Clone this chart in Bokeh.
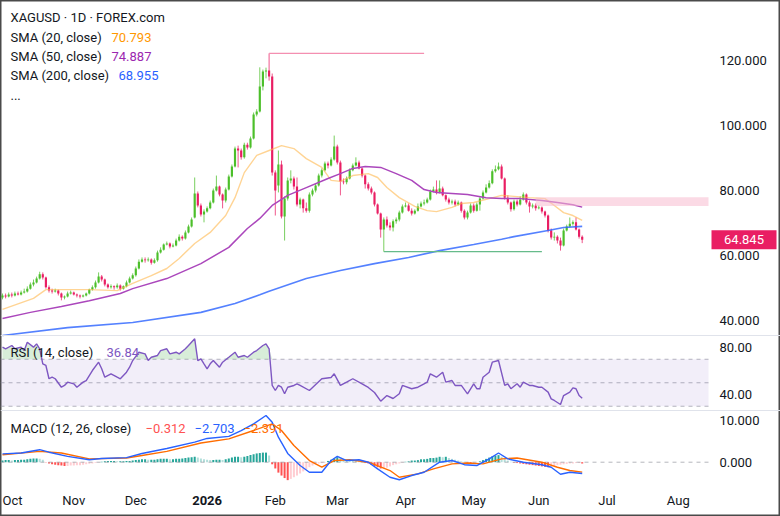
import numpy as np
from bokeh.plotting import figure
from bokeh.models import (Range1d, ColumnDataSource, Span,
                          BoxAnnotation, Label, LabelSet)
from bokeh.embed import file_html
from bokeh.resources import INLINE
from bokeh.core.properties import value

# ---------------- data ----------------
opens = [47.1, 47.7, 47.4, 48.0, 47.7, 48.3, 48.0, 48.6, 48.9, 49.8,
         51.1, 51.7, 52.9, 54.2, 53.2, 50.2, 49.2, 48.9, 49.2, 48.3,
         47.1, 47.4, 48.3, 48.6, 48.0, 47.7, 47.4, 47.7, 48.3, 49.5,
         50.2, 51.7, 53.5, 52.6, 51.1, 50.2, 50.5, 50.2, 50.8, 49.8,
         50.5, 51.7, 52.9, 53.9, 56.0, 58.1, 58.8, 58.5, 58.8, 57.8,
         58.5, 60.9, 61.8, 63.4, 63.7, 62.8, 63.1, 64.6, 65.8, 65.2,
         67.1, 68.9, 71.7, 79.1, 75.4, 72.6, 73.5, 74.5, 76.3, 80.0,
         81.2, 78.8, 76.9, 80.3, 84.3, 87.4, 92.9, 92.3, 90.2, 94.1,
         93.2, 96.0, 103.4, 104.3, 112.0, 116.6, 116.9, 115.1, 85.5, 81.5,
         88.0, 72.0, 77.5, 83.1, 83.7, 81.2, 75.7, 77.2, 74.5, 73.8,
         78.8, 80.0, 81.5, 84.6, 86.2, 88.3, 87.7, 89.5, 93.5, 88.6,
         82.8, 82.5, 83.7, 86.2, 87.7, 88.6, 86.8, 84.6, 81.9, 80.6,
         79.4, 75.7, 72.9, 68.0, 71.1, 69.2, 68.6, 70.5, 71.1, 73.2,
         75.1, 75.4, 73.8, 72.9, 73.8, 75.1, 76.0, 76.3, 77.2, 79.7,
         80.3, 79.4, 80.6, 78.5, 77.2, 76.3, 76.6, 75.7, 76.3, 73.8,
         71.7, 73.2, 75.4, 73.8, 75.7, 77.5, 79.4, 80.9, 82.2, 85.9,
         86.5, 87.4, 83.7, 77.8, 76.3, 74.2, 76.6, 75.7, 77.2, 78.8,
         76.3, 75.1, 75.4, 74.5, 74.8, 73.5, 72.3, 67.7, 65.5, 65.8,
         64.6, 63.1, 67.7, 68.9, 69.8, 70.2, 68.0, 65.8]
highs = [48.3, 48.3, 48.6, 48.6, 48.9, 48.9, 49.2, 49.8, 50.5, 51.7,
         52.6, 53.5, 55.0, 54.8, 53.5, 50.8, 49.8, 49.8, 49.5, 48.6,
         47.7, 48.9, 49.2, 48.9, 48.3, 48.0, 48.0, 48.6, 49.8, 50.8,
         52.3, 54.8, 54.0, 52.9, 51.4, 51.1, 50.8, 51.4, 51.1, 50.8,
         52.3, 53.5, 54.5, 56.6, 58.8, 59.4, 59.4, 59.4, 59.1, 59.1,
         61.5, 62.5, 63.7, 64.3, 64.0, 63.7, 65.2, 66.5, 66.2, 67.7,
         69.5, 71.7, 84.0, 79.7, 76.0, 74.2, 75.1, 76.9, 80.6, 84.6,
         81.5, 79.1, 80.9, 84.9, 88.0, 93.5, 93.8, 92.9, 94.7, 94.7,
         96.6, 104.0, 105.0, 117.9, 117.2, 117.8, 122.2, 116.0, 86.2, 92.3,
         89.2, 78.2, 84.0, 86.2, 84.3, 84.0, 77.8, 77.5, 76.3, 79.4,
         80.6, 82.2, 85.2, 86.8, 88.9, 88.9, 90.2, 96.9, 94.1, 89.2,
         83.7, 84.3, 86.8, 88.3, 90.2, 89.2, 87.1, 84.9, 82.5, 81.2,
         79.7, 76.0, 73.2, 71.7, 72.0, 70.2, 71.1, 71.7, 73.8, 75.7,
         76.3, 76.0, 74.5, 74.2, 76.0, 76.6, 77.2, 77.8, 80.3, 81.2,
         83.1, 83.1, 81.2, 78.8, 77.8, 77.2, 77.2, 76.9, 76.6, 74.2,
         73.8, 76.0, 76.0, 76.3, 78.2, 80.0, 81.9, 83.1, 86.5, 87.7,
         88.6, 88.0, 84.0, 78.5, 76.6, 77.2, 77.2, 78.2, 79.4, 79.1,
         76.9, 76.0, 76.0, 75.4, 75.1, 73.8, 72.6, 68.3, 67.1, 66.2,
         65.5, 68.3, 69.5, 71.7, 70.8, 71.7, 68.3, 66.2]
lows = [46.5, 46.8, 47.1, 47.1, 47.4, 47.7, 47.7, 48.3, 48.6, 49.5,
        50.5, 51.4, 52.6, 52.6, 49.8, 48.6, 48.3, 48.6, 47.7, 46.2,
        46.5, 47.1, 48.0, 47.7, 47.1, 46.8, 47.1, 47.4, 48.0, 49.2,
        49.8, 51.4, 52.0, 50.5, 49.8, 49.8, 49.5, 49.8, 49.2, 49.5,
        50.2, 51.4, 52.6, 53.5, 55.7, 57.8, 57.8, 58.1, 57.2, 57.5,
        58.1, 60.6, 61.5, 63.1, 62.2, 62.5, 62.8, 64.3, 64.6, 64.9,
        66.8, 68.6, 71.4, 74.8, 72.0, 70.2, 73.2, 74.2, 76.0, 79.7,
        78.2, 74.5, 76.3, 80.0, 84.0, 87.1, 87.1, 89.5, 89.8, 92.6,
        92.9, 95.7, 102.8, 104.0, 110.8, 114.5, 113.8, 84.6, 72.3, 79.4,
        71.4, 64.6, 76.9, 82.2, 80.3, 75.1, 74.5, 73.2, 73.2, 73.2,
        78.2, 79.4, 81.2, 84.0, 85.9, 86.8, 87.4, 89.2, 88.0, 78.5,
        81.9, 81.9, 83.4, 85.9, 87.4, 86.5, 84.0, 80.6, 80.0, 78.8,
        75.1, 72.6, 65.5, 61.2, 68.6, 67.7, 67.4, 69.8, 70.5, 72.9,
        74.8, 73.5, 72.3, 72.6, 73.5, 74.8, 75.4, 76.0, 76.9, 79.4,
        78.8, 79.1, 78.2, 76.6, 75.7, 75.7, 75.1, 75.4, 73.2, 71.1,
        71.1, 72.9, 73.2, 73.5, 73.8, 77.2, 79.1, 80.6, 81.9, 85.5,
        86.2, 83.4, 77.2, 75.7, 73.5, 73.8, 75.1, 75.4, 76.9, 75.7,
        73.2, 74.5, 73.8, 74.2, 72.9, 71.7, 67.1, 64.9, 64.6, 63.7,
        61.5, 62.8, 67.4, 68.6, 69.2, 67.7, 65.2, 63.8]
closes = [47.7, 47.4, 48.0, 47.7, 48.3, 48.0, 48.6, 48.9, 49.8, 51.1,
          51.7, 52.9, 54.2, 53.2, 50.2, 49.2, 48.9, 49.2, 48.3, 47.1,
          47.4, 48.3, 48.6, 48.0, 47.7, 47.4, 47.7, 48.3, 49.5, 50.2,
          51.7, 53.5, 52.6, 51.1, 50.2, 50.5, 50.2, 50.8, 49.8, 50.5,
          51.7, 52.9, 53.9, 56.0, 58.1, 58.8, 58.5, 58.8, 57.8, 58.5,
          60.9, 61.8, 63.4, 63.7, 62.8, 63.1, 64.6, 65.8, 65.2, 67.1,
          68.9, 71.1, 79.1, 75.4, 72.6, 73.5, 74.5, 76.3, 80.0, 81.2,
          78.8, 76.9, 80.3, 84.3, 87.4, 92.9, 92.3, 90.2, 94.1, 93.2,
          96.0, 103.4, 104.3, 112.0, 116.6, 116.9, 115.1, 85.5, 80.0, 88.0,
          72.0, 77.5, 83.1, 83.7, 81.2, 75.7, 77.2, 74.5, 73.8, 78.8,
          80.0, 81.5, 84.6, 86.2, 88.3, 87.7, 89.5, 93.5, 88.6, 82.8,
          82.5, 83.7, 86.2, 87.7, 88.6, 86.8, 84.6, 81.9, 80.6, 79.4,
          75.7, 72.9, 68.0, 71.1, 69.2, 68.6, 70.5, 71.1, 73.2, 75.1,
          75.4, 73.8, 72.9, 73.8, 75.1, 76.0, 76.3, 77.2, 79.7, 80.3,
          79.4, 80.6, 78.5, 77.2, 76.3, 76.6, 75.7, 76.3, 73.8, 71.7,
          73.2, 75.4, 73.8, 75.7, 77.5, 79.4, 80.9, 82.2, 85.9, 86.5,
          87.4, 83.7, 77.8, 76.3, 74.2, 76.6, 75.7, 77.2, 78.8, 76.3,
          75.1, 75.4, 74.5, 74.8, 73.5, 72.3, 67.7, 65.5, 65.8, 64.6,
          63.1, 67.7, 68.9, 69.8, 70.2, 68.0, 65.8, 64.845]

sma20_idx = [0, 10, 14, 19, 28, 37, 42, 48, 53, 57, 62, 67, 72, 75, 78, 82, 86, 90, 94, 98,
             103, 106, 109, 113, 118, 121, 124, 128, 133, 137, 140, 145, 148, 152, 157, 161,
             165, 170, 175, 178, 181, 184, 187]
sma20_val = [43.4, 46.8, 49.5, 49.5, 49.5, 49.2, 51.4, 53.8, 56.0, 59.1, 63.7, 67.1, 72.3,
             77.8, 85.5, 90.8, 92.3, 93.8, 92.9, 89.8, 87.1, 83.1, 82.8, 84.6, 85.2, 84.0,
             80.9, 77.8, 75.1, 73.8, 73.5, 74.8, 76.0, 76.3, 77.5, 78.5, 78.2, 77.8, 77.5,
             75.4, 73.2, 72.3, 70.793]
sma50_idx = [0, 9, 19, 28, 38, 42, 53, 64, 73, 79, 83, 87, 92, 98, 105, 109, 113, 117, 122,
             127, 132, 136, 140, 145, 150, 156, 161, 167, 174, 179, 184, 187]
sma50_val = [40.6, 42.5, 44.3, 46.1, 48.3, 49.8, 52.9, 57.5, 62.5, 68.3, 71.4, 75.4, 78.5,
             80.9, 83.7, 85.2, 86.8, 87.4, 87.1, 85.2, 83.1, 80.3, 79.4, 79.1, 78.8, 77.8,
             77.5, 77.5, 76.9, 76.3, 75.6, 74.887]
sma200_idx = [0, 21, 42, 64, 75, 83, 86, 98, 109, 120, 131, 141, 152, 161, 165, 176, 181, 187]
sma200_val = [35.4, 37.8, 39.4, 42.5, 45.2, 47.9, 49.0, 52.9, 55.4, 57.5, 59.4, 61.5, 63.4,
              65.0, 65.8, 67.7, 68.6, 68.955]

rsi_idx = [0, 1, 3, 4, 6, 7, 8, 10, 11, 12, 13, 14, 15, 16, 17, 19, 20, 21, 23, 24, 26, 27,
           29, 31, 32, 33, 35, 37, 38, 40, 41, 42, 44, 46, 47, 48, 50, 51, 53, 54, 56, 57,
           59, 60, 62, 63, 64, 65, 66, 67, 68, 70, 71, 73, 75, 76, 78, 79, 81, 82, 84, 85,
           86, 87, 88, 89, 90, 91, 92, 94, 95, 96, 99, 103, 106, 107, 109, 111, 113, 116,
           118, 120, 122, 124, 126, 128, 129, 132, 134, 136, 137, 138, 140, 142, 143, 145,
           146, 148, 150, 152, 153, 154, 155, 157, 158, 160, 162, 163, 164, 166, 167, 168,
           170, 171, 173, 174, 176, 177, 178, 180, 181, 183, 184, 185, 186, 187]
rsi_val = [80.3, 78.9, 81.7, 78.9, 80.3, 77.4, 84.5, 80.3, 83.1, 78.9, 66.1, 64.7, 53.4,
           54.8, 53.4, 46.2, 47.7, 50.5, 49.1, 46.2, 50.5, 51.9, 60.4, 67.5, 61.9, 54.7,
           57.6, 54.7, 53.4, 59.0, 63.2, 68.9, 76.0, 74.6, 68.9, 71.7, 73.2, 77.4, 78.9,
           74.6, 76.0, 74.6, 78.9, 81.7, 87.4, 68.9, 70.4, 66.1, 61.9, 66.1, 68.9, 63.2,
           67.5, 71.7, 76.0, 71.7, 73.2, 71.7, 76.0, 77.4, 81.7, 83.1, 78.9, 47.7, 43.4,
           47.7, 46.2, 40.6, 46.2, 47.7, 49.1, 47.7, 43.4, 53.4, 54.5, 57.6, 47.7, 50.5,
           53.4, 49.1, 46.0, 41.7, 34.3, 39.1, 36.6, 40.6, 47.7, 44.9, 46.2, 49.1, 50.5,
           57.6, 54.7, 59.0, 50.5, 51.9, 47.7, 47.7, 40.6, 49.1, 44.9, 44.9, 54.7, 59.0,
           67.5, 68.9, 47.7, 49.1, 44.9, 49.1, 46.2, 50.5, 47.7, 47.7, 46.2, 46.2, 42.0,
           36.3, 34.9, 31.5, 39.1, 42.0, 45.7, 44.9, 39.1, 36.84]

macd_idx = [0, 6, 12, 15, 21, 28, 32, 40, 45, 53, 62, 66, 73, 77, 81, 85, 87, 89, 92, 96,
            99, 103, 106, 108, 111, 115, 118, 121, 125, 128, 132, 136, 141, 145, 149, 153,
            157, 160, 163, 168, 174, 177, 180, 183, 187]
macd_val = [2.0, 2.2, 3.0, 2.4, 1.4, 0.6, 0.9, 1.1, 2.1, 3.3, 4.8, 5.7, 6.2, 7.6, 9.2, 11.2,
            9.6, 6.0, 2.1, -0.8, -2.4, -2.4, 0.4, 1.4, 0.4, 0.6, 0.0, -1.6, -3.6, -4.2, -3.2,
            -2.4, 0.0, 0.4, -0.6, -0.8, 0.8, 2.2, 0.8, 0.0, -0.6, -1.2, -2.9, -2.4, -2.703]
signal_idx = [0, 12, 19, 28, 40, 45, 53, 64, 73, 81, 87, 90, 94, 99, 103, 107, 112, 118, 125,
              128, 134, 139, 145, 150, 155, 161, 166, 174, 179, 183, 187]
signal_val = [1.8, 2.6, 2.2, 0.8, 1.0, 1.6, 2.6, 4.6, 5.6, 7.6, 9.2, 7.6, 4.0, 0.4, -1.2, 0.4,
              0.6, 0.0, -2.0, -3.6, -2.8, -1.6, -0.4, -0.2, -0.4, 0.8, 1.0, 0.0, -1.2, -2.0,
              -2.391]
hist_val = [0.4, 0.5, 0.5, 0.4, 0.5, 0.5, 0.6, 0.6, 0.7, 0.8,
            0.9, 0.9, 0.8, 0.6, -0.1, -0.3, -0.5, -0.6, -0.7, -0.8,
            -0.9, -0.9, -0.8, -0.8, -0.7, -0.7, -0.6, -0.5, -0.4, -0.3,
            -0.2, -0.1, 0.1, 0.2, 0.3, 0.3, 0.3, 0.2, 0.2, 0.2,
            0.3, 0.3, 0.4, 0.5, 0.6, 0.7, 0.7, 0.6, 0.6, 0.6,
            0.7, 0.8, 0.8, 0.8, 0.7, 0.7, 0.8, 0.8, 0.9, 1.0,
            1.1, 1.2, 1.3, 1.1, 0.9, 0.7, 0.6, 0.5, 0.5, 0.6,
            0.6, 0.5, 0.7, 0.9, 1.1, 1.3, 1.3, 1.2, 1.3, 1.5,
            1.7, 1.9, 2.1, 2.2, 2.3, 2.3, 1.6, -0.5, -1.5, -2.5,
            -3.2, -3.8, -4.3, -4.0, -3.6, -3.2, -2.7, -2.2, -1.7, -1.2,
            -0.8, -0.5, -0.3, -0.2, -0.1, 0.3, 0.6, 0.9, 1.2, 1.0,
            0.8, 0.6, 0.5, 0.4, 0.3, 0.2, 0.0, -0.2, -0.3, -0.6,
            -0.9, -1.2, -1.5, -1.5, -1.3, -1.0, -0.7, -0.5, -0.3, -0.1,
            0.1, 0.2, 0.4, 0.4, 0.5, 0.7, 0.7, 0.8, 1.0, 1.0,
            1.1, 1.3, 1.2, 1.3, 1.0, 0.8, 0.6, 0.4, 0.2, 0.1,
            -0.1, -0.2, -0.1, 0.0, 0.2, 0.5, 0.8, 1.1, 1.4, 1.6,
            1.7, 1.3, 0.8, 0.4, 0.1, -0.1, -0.2, -0.3, -0.4, -0.5,
            -0.6, -0.7, -0.8, -0.9, -1.0, -1.1, -1.2, -1.1, -0.9, -0.7,
            -0.6, -0.5, -0.4, -0.3, -0.3, -0.2, -0.2, -0.312]

month_idx = [0, 23, 43, 66, 88, 108, 130, 152, 173, 195, 218]
month_lbl = ["Oct", "Nov", "Dec", "2026", "Feb", "Mar", "Apr", "May", "Jun", "Jul", "Aug"]
price_ticks = [40, 60, 80, 100, 120]
rsi_ticks = [40, 80]
macd_ticks = [0, 10]

# drawings on the chart
resist_x = [86, 136]
resist_y = 122.2
support_x = [123, 174]
support_y = 61.2
zone_start = 172
zone_lo, zone_hi = 75.2, 77.9

# ---------------- layout constants ----------------
FONT = "Roboto"
TXT = "#131722"
UP, DN = "#4cbf2a", "#e91e63"
W, H = 780, 516
BAR_PX = 3.1
X0 = -2.0 / BAR_PX
X1 = X0 + W / BAR_PX
PANE_R = X0 + 708 / BAR_PX

p = figure(width=W, height=H, output_backend="svg", toolbar_location=None,
           x_range=Range1d(X0, X1), y_range=Range1d(-20.31, 138.4615),
           x_axis_location=None, y_axis_location=None,
           min_border_left=0, min_border_right=0, min_border_top=0,
           min_border_bottom=0)
p.extra_y_ranges = {"rsi": Range1d(-63.83, 375.32), "macd": Range1d(-13.02, 110.72)}
p.grid.visible = False
p.outline_line_color = "#4a4a4a"
p.outline_line_width = 2
p.background_fill_color = "white"
p.border_fill_color = "white"


def sy(canvas_y):
    return H - canvas_y


# pane separators
for cy in (335, 410):
    p.add_layout(Span(location=sy(cy), location_units="screen", dimension="width",
                      line_color="#e0e3eb", line_width=1))

# ---- price pane ----
p.add_layout(BoxAnnotation(left=zone_start, right=PANE_R, bottom=zone_lo, top=zone_hi,
                           fill_color="#f8bbd0", fill_alpha=0.55, line_color=None))

o = np.array(opens); c = np.array(closes); hi = np.array(highs); lo = np.array(lows)
idx = np.arange(len(c))
colors = np.where(c >= o, UP, DN)
btop = np.maximum(o, c)
bbot = np.minimum(o, c)
btop = np.maximum(btop, bbot + 0.3)
src = ColumnDataSource(dict(x=idx, top=btop, bottom=bbot, high=hi, low=lo, color=colors))
p.segment(x0="x", y0="high", x1="x", y1="low", line_color="color", line_alpha=0.75,
          line_width=1, source=src)
p.vbar(x="x", width=0.7, top="top", bottom="bottom", fill_color="color",
       line_color=None, source=src)

p.line(sma20_idx, sma20_val, line_color="#ffb74d", line_width=1.4, line_alpha=0.6)
p.line(sma50_idx, sma50_val, line_color="#ab47bc", line_width=1.5)
p.line(sma200_idx, sma200_val, line_color="#2962ff", line_width=1.6, line_alpha=0.8)

p.segment(x0=[resist_x[0]], y0=[resist_y], x1=[resist_x[1]], y1=[resist_y],
          line_color="#f48fb1", line_width=1.2)
p.segment(x0=[support_x[0]], y0=[support_y], x1=[support_x[1]], y1=[support_y],
          line_color="#66bb8a", line_width=1.2)

price_src = ColumnDataSource(dict(y=price_ticks, text=[f"{t:.3f}" for t in price_ticks]))
p.add_layout(LabelSet(x=719, x_units="screen", y="y", text="text", source=price_src,
                      text_font=value(FONT), text_font_size="13px", text_color=TXT,
                      text_baseline="middle"))

last = closes[-1]
p.add_layout(BoxAnnotation(left=711, right=776, left_units="screen", right_units="screen",
                           bottom=last - 2.9, top=last + 2.9, fill_color=DN, fill_alpha=1,
                           line_color=None))
p.add_layout(Label(x=743.5, x_units="screen", y=last, text=f"{last:.3f}",
                   text_align="center", text_baseline="middle", text_color="white",
                   text_font=FONT, text_font_size="13px"))

# ---- RSI pane ----
p.add_layout(BoxAnnotation(right=PANE_R, bottom=30, top=70, y_range_name="rsi",
                           fill_color="#7e57c2", fill_alpha=0.1, line_color=None))
for lvl in (70, 50, 30):
    p.segment(x0=[X0], y0=[lvl], x1=[PANE_R], y1=[lvl], y_range_name="rsi",
              line_color="#9598a1", line_dash="4 4", line_width=1, line_alpha=0.7)
rsi_arr = np.array(rsi_val)
p.varea(x=rsi_idx, y1=70, y2=np.maximum(rsi_arr, 70), y_range_name="rsi",
        fill_color="#4caf50", fill_alpha=0.22)
p.line(rsi_idx, rsi_val, y_range_name="rsi", line_color="#7e57c2", line_width=1.4)
rsi_src = ColumnDataSource(dict(y=rsi_ticks, text=[f"{t:.2f}" for t in rsi_ticks]))
p.add_layout(LabelSet(x=719, x_units="screen", y="y", text="text", source=rsi_src,
                      y_range_name="rsi", text_font=value(FONT), text_font_size="13px",
                      text_color=TXT, text_baseline="middle"))

# ---- MACD pane ----
h = np.array(hist_val)
prev = np.concatenate([[h[0]], h[:-1]])
hcol = np.where(h >= 0, np.where(h >= prev, "#26a69a", "#b2dfdb"),
                np.where(h < prev, "#ff5252", "#ffcdd2"))
hsrc = ColumnDataSource(dict(x=idx, top=h, color=hcol))
p.vbar(x="x", width=0.65, top="top", bottom=0, fill_color="color", line_color=None,
       source=hsrc, y_range_name="macd")
p.segment(x0=[X0], y0=[0], x1=[PANE_R], y1=[0], y_range_name="macd",
          line_color="#9598a1", line_dash="4 4", line_width=1, line_alpha=0.7)
p.line(signal_idx, signal_val, y_range_name="macd", line_color="#ff6d00", line_width=1.4)
p.line(macd_idx, macd_val, y_range_name="macd", line_color="#2962ff", line_width=1.4)
macd_src = ColumnDataSource(dict(y=macd_ticks, text=[f"{t:.3f}" for t in macd_ticks]))
p.add_layout(LabelSet(x=719, x_units="screen", y="y", text="text", source=macd_src,
                      y_range_name="macd", text_font=value(FONT), text_font_size="13px",
                      text_color=TXT, text_baseline="middle"))

# ---- time scale labels (months, with the year in bold) ----
m_style = ["bold" if l.isdigit() else "normal" for l in month_lbl]
m_align = ["left" if i == 0 else "center" for i in range(len(month_lbl))]
month_src = ColumnDataSource(dict(x=month_idx, text=month_lbl, style=m_style, align=m_align))
p.add_layout(LabelSet(x="x", y=sy(500), y_units="screen", text="text", source=month_src,
                      text_font=value(FONT), text_font_size="13px", text_color=TXT,
                      text_font_style="style", text_align="align", text_baseline="middle"))


# ---- legends / texts ----
def lab(x, cy, text, color=TXT):
    p.add_layout(Label(x=x, y=sy(cy), x_units="screen", y_units="screen", text=text,
                       text_color=color, text_font=FONT, text_font_size="13px",
                       text_baseline="middle"))


lab(10, 17, "XAGUSD · 1D · FOREX.com")
lab(10, 37, "SMA (20, close)")
lab(111, 37, f"{sma20_val[-1]:.3f}", "#ff9800")
lab(10, 56, "SMA (50, close)")
lab(111, 56, f"{sma50_val[-1]:.3f}", "#9c27b0")
lab(10, 75, "SMA (200, close)")
lab(118, 75, f"{sma200_val[-1]:.3f}", "#2962ff")
lab(10, 95, "...")
lab(10, 352, "RSI (14, close)")
lab(106, 352, f"{rsi_val[-1]:.2f}", "#7e57c2")
lab(10, 428, "MACD (12, 26, close)")
lab(145, 428, f"{hist_val[-1]:.3f}".replace("-", "\u2212"), "#ff5252")
lab(194, 428, f"{macd_val[-1]:.3f}".replace("-", "\u2212"), "#2962ff")
lab(243, 428, f"{signal_val[-1]:.3f}".replace("-", "\u2212"), "#ff6d00")

open("out.html", "w").write(file_html(p, INLINE))
